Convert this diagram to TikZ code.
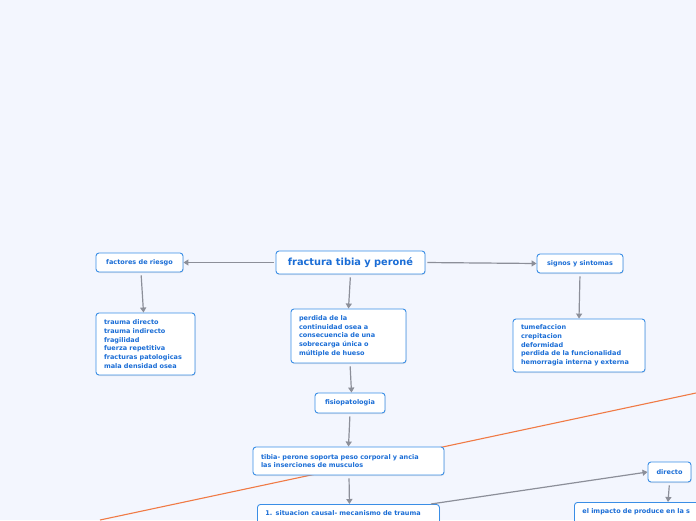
\documentclass[tikz,border=0pt]{standalone}
\usepackage{fontspec}
\setmainfont{DejaVu Sans}
\usetikzlibrary{arrows.meta,shadows}
\definecolor{bg}{HTML}{F3F6FE}
\definecolor{boxblue}{HTML}{3A8EE6}
\definecolor{txtblue}{HTML}{1A6DD6}
\definecolor{arrowgray}{HTML}{8C8F99}
\definecolor{orangeline}{HTML}{F07A45}
\tikzset{
  box/.style={draw=boxblue, fill=white, rounded corners=3pt, line width=0.9pt,
    text=txtblue, font=\bfseries\fontsize{6.5}{8.7}\selectfont, inner sep=0pt,
    drop shadow={opacity=0.18, shadow xshift=0.6pt, shadow yshift=-1pt}},
  listbox/.style={box, align=left, inner xsep=8pt},
  conn/.style={draw=arrowgray, line width=1.2pt, shorten <=2pt,
    -{Triangle[width=6pt,length=5pt]}},
  orange/.style={draw=orangeline, line width=1.1pt}
}
\begin{document}
\begin{tikzpicture}[x=1pt,y=-1pt]
\useasboundingbox (0,0) rectangle (696,520);
\clip (0,0) rectangle (696,520);
\fill[bg] (0,0) rectangle (696,520);

% orange line (behind)
\coordinate (o1) at (100,520);
\coordinate (o2) at (696,393);
\draw[orange] (o1) -- (o2);

\node[box, minimum width=149pt, minimum height=23pt, font=\bfseries\fontsize{9.8}{11}\selectfont] (main) at (350.5,262.5) {fractura tibia y peroné};
\node[box, minimum width=87pt, minimum height=19pt] (fac) at (139.5,262.5) {factores de riesgo};
\node[box, minimum width=86pt, minimum height=19pt] (sig) at (580,263.5) {signos y sintomas};

\node[listbox, text width=83pt, minimum height=62pt] (facl) at (145.5,344) {trauma directo\\trauma indirecto\\fragilidad\\fuerza repetitiva\\fracturas patologicas\\mala densidad osea};
\node[listbox, text width=99pt, minimum height=54pt] (per) at (348.5,336) {perdida de la\\continuidad osea a\\consecuencia de una\\sobrecarga única o\\múltiple de hueso};
\node[listbox, text width=116pt, minimum height=53pt] (sigl) at (579,345.5) {tumefaccion\\crepitacion\\deformidad\\perdida de la funcionalidad\\hemorragia interna y externa};

\node[box, minimum width=70pt, minimum height=20pt] (fis) at (350,403) {fisiopatologia};
\node[listbox, text width=175pt, minimum height=28pt, inner xsep=8pt] (tib) at (348.5,461) {tibia- perone soporta peso corporal y ancia\\las inserciones de musculos};

\node[box, anchor=north west, minimum width=182pt, minimum height=30pt, align=left, text width=166pt, inner xsep=8pt, inner ysep=6pt, text depth=14pt] (sit) at (257,504) {1. situacion causal- mecanismo de trauma};
\node[box, minimum width=43pt, minimum height=20pt] (dir) at (669.5,472) {directo};
\node[box, anchor=north west, minimum width=190pt, minimum height=40pt, align=left, text width=174pt, inner xsep=8pt, inner ysep=6pt, text depth=24pt] (imp) at (574,502) {el impacto de produce en la s};

\draw[conn] (main.west) -- (fac.east);
\draw[conn] (main.east) -- (sig.west);
\draw[conn, shorten <=3pt] (main.south) -- (per.north);
\draw[conn, shorten <=3pt] ([xshift=1.5pt]fac.south) -- ([xshift=-2pt]facl.north);
\draw[conn, shorten <=3pt] (sig.south) -- (sigl.north);
\draw[conn, shorten <=3pt] ([xshift=1.5pt]per.south) -- ([xshift=1.5pt]fis.north);
\draw[conn, shorten <=3pt] (fis.south) -- (tib.north);
\draw[conn, shorten <=3pt] ([xshift=0.5pt]tib.south) -- ([xshift=1pt]sit.north);
\draw[conn, shorten <=0pt] ([xshift=-9pt]sit.north east) -- (dir.west);
\draw[conn, shorten <=3pt] (dir.south) -- ([xshift=94pt]imp.north west);
\end{tikzpicture}
\end{document}
